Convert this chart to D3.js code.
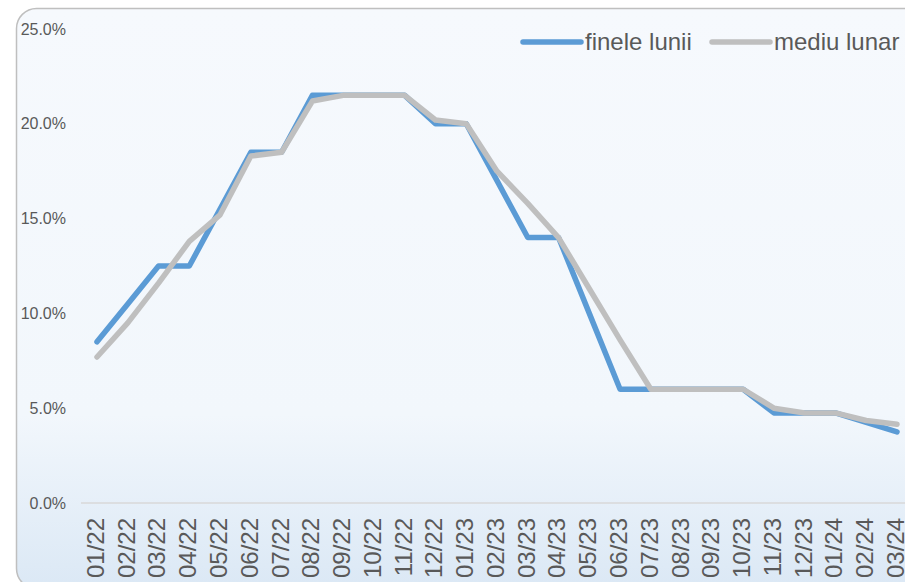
<!DOCTYPE html>
<html>
<head>
<meta charset="utf-8">
<script src="https://cdn.jsdelivr.net/npm/d3@7"></script>
<style>
  html, body { margin: 0; padding: 0; background: #ffffff; }
  svg { display: block; font-family: "Liberation Sans", Arial, sans-serif; }
</style>
</head>
<body>
<svg id="chart"></svg>
<script>

// categories (month/year)
const months = ['01/22','02/22','03/22','04/22','05/22','06/22','07/22','08/22','09/22','10/22','11/22','12/22',
                '01/23','02/23','03/23','04/23','05/23','06/23','07/23','08/23','09/23','10/23','11/23','12/23',
                '01/24','02/24','03/24'];

// end of month rate, %
const fineleLunii = [8.5, 10.5, 12.5, 12.5, 15.5, 18.5, 18.5, 21.5, 21.5, 21.5, 21.5, 20.0,
                     20.0, 17.0, 14.0, 14.0, 10.0, 6.0, 6.0, 6.0, 6.0, 6.0, 4.75, 4.75,
                     4.75, 4.25, 3.75];

// monthly average rate, %
const mediuLunar = [7.7, 9.5, 11.6, 13.8, 15.2, 18.3, 18.5, 21.2, 21.5, 21.5, 21.5, 20.2,
                    20.0, 17.5, 15.8, 14.0, 11.3, 8.6, 6.0, 6.0, 6.0, 6.0, 5.0, 4.75,
                    4.75, 4.35, 4.15];

const yTicks = [0, 5, 10, 15, 20, 25];

const seriesNames = ['finele lunii', 'mediu lunar'];
const seriesColors = ['#5b9bd5', '#bfbfbf'];

const svg_dims = {width: 905, height: 582};

const svg = d3.select('#chart')
    .attr("width", svg_dims.width)
    .attr("height", svg_dims.height);

// background gradient of the chart area
const grad = svg.append("defs").append("linearGradient")
    .attr("id", "bg")
    .attr("x1", 0).attr("y1", 0).attr("x2", 0).attr("y2", 1);
grad.append("stop").attr("offset", "0%").attr("stop-color", "#f6f9fd");
grad.append("stop").attr("offset", "70%").attr("stop-color", "#f2f7fc");
grad.append("stop").attr("offset", "100%").attr("stop-color", "#dbe8f5");

svg.append("rect")
    .attr("x", 16.5)
    .attr("y", 8.5)
    .attr("width", 940)
    .attr("height", 580)
    .attr("rx", 20)
    .attr("fill", "url(#bg)")
    .attr("stroke", "#bfbfbf")
    .attr("stroke-width", 1.5);

var x_scale = d3.scalePoint()
    .domain(months)
    .range([97, 897]);

var y_scale = d3.scaleLinear()
    .domain([0, 25])
    .range([503, 29]);

// baseline at 0
svg.append("line")
    .attr("x1", 81)
    .attr("x2", 905)
    .attr("y1", y_scale(0))
    .attr("y2", y_scale(0))
    .attr("stroke", "#d9d9d9")
    .attr("stroke-width", 1.5);

// y axis
const yAxis = svg.append("g")
    .attr("transform", "translate(66,0)")
    .call(d3.axisLeft(y_scale)
      .tickValues(yTicks)
      .tickSize(0)
      .tickPadding(0)
      .tickFormat(d => d3.format(".1f")(d) + "%"));
yAxis.select(".domain").remove();
yAxis.selectAll("text")
    .attr("fill", "#595959")
    .style("font-size", "16px")
    .style("font-family", "'Liberation Sans', Arial, sans-serif");

// x axis labels, rotated
const xAxis = svg.append("g")
    .attr("transform", "translate(0,518)")
    .call(d3.axisBottom(x_scale).tickSize(0).tickPadding(0));
xAxis.select(".domain").remove();
xAxis.selectAll("text")
    .attr("fill", "#595959")
    .attr("y", 0)
    .attr("dy", "0.35em")
    .attr("x", 0)
    .attr("transform", "translate(-2,0) rotate(-90)")
    .style("text-anchor", "end")
    .style("font-size", "24px")
    .style("font-family", "'Liberation Sans', Arial, sans-serif");

// lines
const line = d3.line()
    .x((d, i) => x_scale(months[i]))
    .y(d => y_scale(d));

[fineleLunii, mediuLunar].forEach(function(values, ix) {
  svg.append("path")
    .datum(values)
    .attr("fill", "none")
    .attr("stroke", seriesColors[ix])
    .attr("stroke-width", 5.5)
    .attr("stroke-linecap", "round")
    .attr("stroke-linejoin", "round")
    .attr("d", line);
});

// legend
const legendX = [523, 712];
seriesNames.forEach(function(name, ix) {
  const lg = svg.append("g").attr("transform", "translate(" + legendX[ix] + ",42)");
  lg.append("line")
    .attr("x1", 0).attr("x2", 58)
    .attr("y1", 0).attr("y2", 0)
    .attr("stroke", seriesColors[ix])
    .attr("stroke-width", 5.5)
    .attr("stroke-linecap", "round");
  lg.append("text")
    .attr("x", 62)
    .attr("dy", "0.35em")
    .attr("fill", "#595959")
    .style("font-size", "24px")
    .text(name);
});

</script>
</body>
</html>
